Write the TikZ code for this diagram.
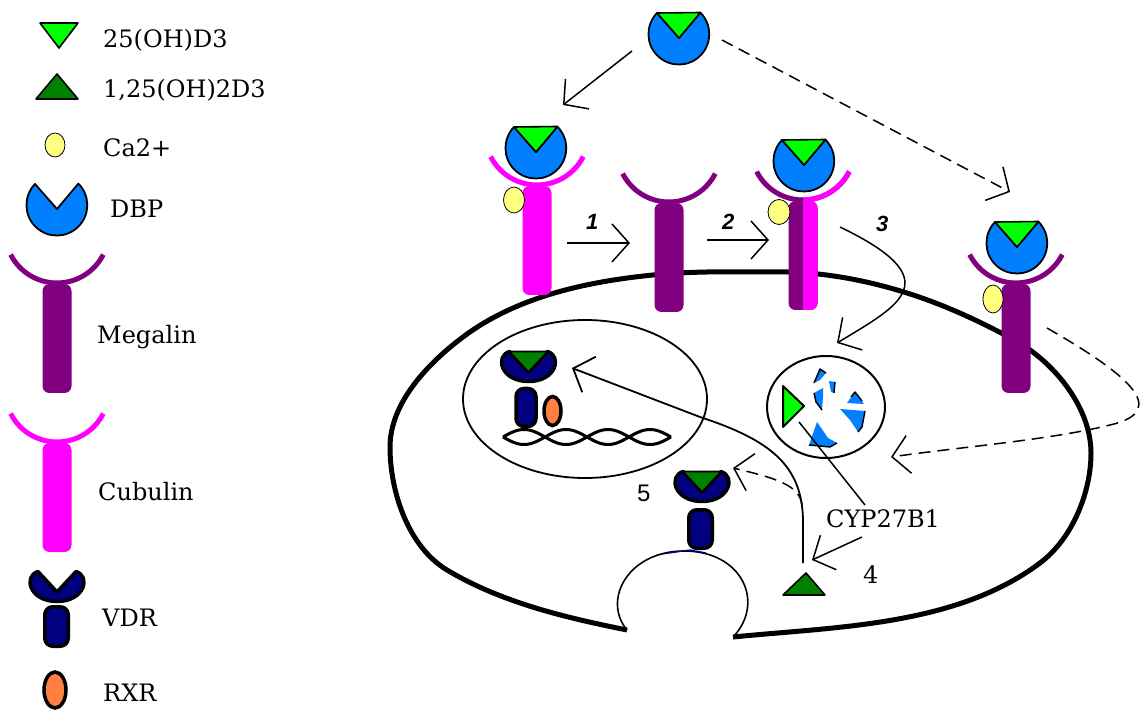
\documentclass[tikz,border=0pt]{standalone}
\usepackage{fontspec}
\setmainfont{DejaVu Serif}
\newfontfamily\sanslabel{Liberation Sans}
\usetikzlibrary{arrows.meta}

\definecolor{ligand}{HTML}{00FF00}
\definecolor{calcitriol}{HTML}{008000}
\definecolor{dbpblue}{HTML}{0080FF}
\definecolor{calcium}{HTML}{FFFF80}
\definecolor{megalin}{HTML}{800080}
\definecolor{cubulin}{HTML}{FF00FF}
\definecolor{vdrblue}{HTML}{000080}
\definecolor{rxr}{HTML}{FF8040}

\tikzset{
  dbpbody/.style={fill=dbpblue, draw=black, line width=1.8, line join=round},
  ligandfill/.style={fill=ligand, draw=black, line width=1.6, line join=round},
  activefill/.style={fill=calcitriol, draw=black, line width=1.6, line join=round},
  calciumion/.style={fill=calcium, draw=black, line width=0.8},
  vdrbody/.style={fill=vdrblue, draw=black, line width=3.5, line join=round},
  rxrbody/.style={fill=rxr, draw=black, line width=3.5},
  membrane/.style={line width=5, line join=round},
  thinwall/.style={line width=1.8},
  helix/.style={line width=3},
  fragment/.style={fill=dbpblue},
  fragedge/.style={line width=1.4, line join=round},
  flow/.style={line width=1.5, -{Straight Barb[length=17pt, width=38pt]}},
  dashflow/.style={flow, dash pattern=on 12pt off 7pt},
  link/.style={line width=1.5},
  legendtext/.style={anchor=base west, inner sep=0pt, font=\fontsize{24}{28}\selectfont},
  steplabel/.style={anchor=base west, inner sep=0pt, font=\sanslabel\bfseries\itshape\fontsize{22}{26}\selectfont},
  numlabel/.style={anchor=base west, inner sep=0pt, font=\sanslabel\fontsize{24}{28}\selectfont},
  % binding protein with its open notch
  dbp/.pic={\path[dbpbody] (-22,-21) arc[start angle=224, end angle=-45, radius=30.4] -- (0,4) -- cycle;},
  % binding protein carrying 25(OH)D3
  dbpbound/.pic={\pic{dbp}; \path[ligandfill] (-22,-21) -- (21.5,-21.5) -- (0,4) -- cycle;},
  % vitamin D receptor head
  vdrhead/.pic={\path[vdrbody] (-19,-15.5) .. controls (-34,-11) and (-28,14.5) .. (0,14.5)
      .. controls (28,14.5) and (34,-11) .. (19,-15.5) -- (0,5) -- cycle;},
  vdrbound/.pic={\pic{vdrhead}; \path[activefill] (-19,-15.5) -- (19,-15.5) -- (0,5) -- cycle;},
  % membrane receptor: cup on a stem, origin at the bottom of the cup
  receptor/.pic={
    \fill[#1, rounded corners=7pt] (-14.5,1) rectangle (14.5,110);
    \draw[#1, line width=5] (46.3,-28.4) arc[start angle=27, end angle=153, radius=52];
  },
}

\begin{document}
\begin{tikzpicture}[x=1pt, y=-1pt]
\useasboundingbox (0,0) rectangle (1144,711);

% ---------------- legend ----------------
\path[ligandfill] (40,23) -- (78,23) -- (59,48) -- cycle;
\path[activefill] (36,99) -- (78,99) -- (57,74) -- cycle;
\path[calciumion] (55,145) ellipse[x radius=10, y radius=12];
\pic at (57,205) {dbp};
\pic at (57,283) {receptor=megalin};
\pic at (57,442) {receptor=cubulin};
\path[vdrbody, rounded corners=8pt] (44.75,606.75) rectangle (68.25,646.25);
\pic at (57,587) {vdrhead};
\path[rxrbody] (55,690) ellipse[x radius=11, y radius=18];

\node[legendtext] (txt25) at (103,48) {25(OH)D3};
\node[legendtext] (txt125) at (103,98) {1,25(OH)2D3};
\node[legendtext] (txtca) at (103,157) {Ca2+};
\node[legendtext] (txtdbp) at (110,218) {DBP};
\node[legendtext] (txtmeg) at (97,344) {Megalin};
\node[legendtext] (txtcub) at (98,500) {Cubulin};
\node[legendtext] (txtvdr) at (102,626) {VDR};
\node[legendtext] (txtrxr) at (103,701) {RXR};

% ---------------- cell ----------------
\draw[membrane] (733,637)
  .. controls (837.5,626.6) and (956,626) .. (1040,563)
  .. controls (1072,539) and (1091,493) .. (1091,453)
  .. controls (1091,408) and (1055,363) .. (1016,341)
  .. controls (981,321.7) and (945,305) .. (907,293)
  .. controls (869,281) and (828,273) .. (788,272)
  .. controls (743,272) and (698,270.5) .. (653,275)
  .. controls (586,281.7) and (516.6,296.8) .. (463,337)
  .. controls (427.8,363.4) and (390,403) .. (390,447)
  .. controls (390,492) and (408.4,546.9) .. (447,570)
  .. controls (501,602.4) and (565.3,617.6) .. (627,630);
% endocytic pit
\draw[line width=1.6] (627,630) .. controls (602,600) and (628,551) .. (684,551)
  .. controls (742,551) and (765,602) .. (734,636);
\draw[vdrblue, line width=1.3] (662,554) -- (690,550) -- (706,553);

% nucleus with DNA and the VDR/RXR complex
\draw[thinwall] (585,399) ellipse[x radius=122, y radius=79];
\draw[helix] plot[domain=0:168, samples=85, smooth] ({503+\x},{437+7.5*sin(\x/42*180)});
\draw[helix] plot[domain=0:168, samples=85, smooth] ({503+\x},{437-7.5*sin(\x/42*180)});
\path[vdrbody, rounded corners=8pt] (516,388.5) rectangle (536,426.5);
\path[rxrbody] (552.5,411) ellipse[x radius=8.5, y radius=14.5];
\pic at (528.5,367) {vdrbound};

% endosome with released 25(OH)D3 and broken DBP
\draw[line width=2] (826,407) ellipse[x radius=59, y radius=51];
\path[ligandfill, line width=2] (783,386) -- (783,427) -- (804,406) -- cycle;
\fill[fragment] (814,383) -- (820,369) -- (826,373) -- (820,380) -- cycle;
\draw[fragedge] (814,383) -- (820,369) -- (826,373);
\fill[fragment] (829,381) -- (835,382) -- (834,393) -- (831,392) -- cycle;
\draw[fragedge] (835,382) -- (834,393);
\fill[fragment] (814,393) -- (823,388) -- (823,397) -- (822,410) -- (816,402) -- cycle;
\draw[fragedge] (814,393) -- (816,402) -- (822,410);
\fill[fragment] (847,403) -- (855,392) -- (864,404) -- cycle;
\draw[fragedge] (851,397) -- (855,392) -- (862,401);
\fill[fragment] (840,409) -- (865,411) -- (862,427) -- (858,432) -- (850,420) -- cycle;
\draw[fragedge] (865,411) -- (862,427) -- (858,432);
\fill[fragment] (817,422) -- (828,438) -- (837,443) -- (830,447) -- (809,445) -- cycle;
\draw[fragedge] (809,445) -- (830,447) -- (837,443);

% ---------------- connector end points ----------------
\coordinate (a1s) at (632,51);   \coordinate (a1e) at (563,105);
\coordinate (a2s) at (722,40);   \coordinate (a2e) at (1010,192);
\coordinate (a3s) at (567,243);  \coordinate (a3e) at (630,243);
\coordinate (a4s) at (707,240);  \coordinate (a4e) at (769,240);
\coordinate (a5s) at (840,227);  \coordinate (a5e) at (837,343);
\coordinate (a6s) at (1047,328); \coordinate (a6e) at (891,457);
\coordinate (a7s) at (803,563);  \coordinate (a7e) at (572,368);
\coordinate (a8s) at (802,505);  \coordinate (a8e) at (733,468);
\coordinate (a9s) at (865,505);  \coordinate (a9e) at (799,422);
\coordinate (a10s) at (862,537); \coordinate (a10e) at (812,560);

\draw[flow] (a1s) -- (a1e);
\draw[dashflow] (a2s) -- (a2e);
\draw[flow] (a3s) -- (a3e);
\draw[flow] (a4s) -- (a4e);
\draw[flow] (a5s) .. controls (950,280) and (900,305) .. (a5e);
\draw[dashflow] (a6s) .. controls (1120,370) and (1175,410) .. (1110,425)
  .. controls (1050,440) and (960,447) .. (a6e);
\draw[flow, line width=1.8] (a7s) -- (803,520) .. controls (802,465) and (770,440) .. (700,417) -- (a7e);
\draw[dashflow] (a8s) .. controls (800,485) and (775,478) .. (a8e);
\draw[link] (a9s) -- (a9e);
\draw[flow] (a10s) -- (a10e);

% ---------------- receptors at the membrane ----------------
\pic at (537,185) {receptor=cubulin};
\pic at (536,148) {dbpbound};
\path[calciumion] (514,200) ellipse[x radius=10.5, y radius=13];

\pic at (669,202) {receptor=megalin};

\pic at (803,200) {receptor=megalin};
\begin{scope}
  \clip (803,120) rectangle (880,330);
  \pic at (803,200) {receptor=cubulin};
\end{scope}
\pic at (804,161) {dbpbound};
\path[calciumion] (779,212) ellipse[x radius=11, y radius=12.5];

\pic at (1016,283) {receptor=megalin};
\pic at (1017,243) {dbpbound};
\path[calciumion] (993,299) ellipse[x radius=10, y radius=14];

\pic at (679,34) {dbpbound};

% VDR at the membrane and the active hormone
\path[vdrbody, rounded corners=8pt] (688.75,509.75) rectangle (712.25,548.25);
\pic at (702,487) {vdrbound};
\path[activefill] (783,595) -- (825,595) -- (806,573) -- cycle;

% ---------------- labels ----------------
\node[legendtext] (cyp) at (826,527) {CYP27B1};
\node[steplabel] (s1) at (586,230) {1};
\node[steplabel] (s2) at (722,230) {2};
\node[steplabel] (s3) at (876,232) {3};
\node[numlabel] (s5) at (637,501) {5};
\node[legendtext] (s4) at (863,583) {4};
\end{tikzpicture}
\end{document}
